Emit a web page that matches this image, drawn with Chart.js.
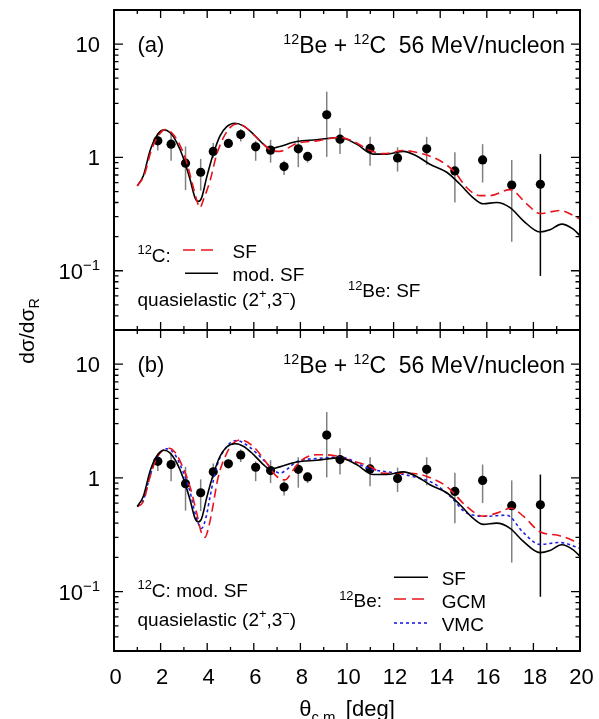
<!DOCTYPE html>
<html>
<head>
<meta charset="utf-8">
<script src="https://cdn.jsdelivr.net/npm/chart.js@4.4.0/dist/chart.umd.min.js"></script>
<style>
body{margin:0;background:#fff;}
#wrap{position:relative;width:599px;height:719px;overflow:hidden;}
canvas{position:absolute;left:0;top:0;}
</style>
</head>
<body>
<div id="wrap">
<canvas id="panelA" width="599" height="719"></canvas>
<canvas id="panelB" width="599" height="719"></canvas>
</div>
<script>
// measured data (same in both panels)
const theta = [1.88, 2.45, 3.07, 3.72, 4.26, 4.91, 5.44, 6.08, 6.72, 7.30, 7.91, 8.31, 9.13, 9.70, 10.99, 12.17, 13.42, 14.63, 15.82, 17.07, 18.30];
const ratio = [1.40, 1.31, 0.89, 0.74, 1.13, 1.33, 1.59, 1.24, 1.16, 0.83, 1.19, 1.02, 2.38, 1.45, 1.20, 0.99, 1.19, 0.76, 0.95, 0.57, 0.58];
const errHi = [1.64, 1.66, 1.25, 0.97, 1.34, 1.40, 1.78, 1.40, 1.43, 0.935, 1.52, 1.11, 3.8, 1.82, 1.52, 1.23, 1.52, 1.11, 1.31, 0.95, 1.07];
const errLo = [1.15, 0.935, 0.515, 0.51, 0.99, 1.27, 1.38, 0.935, 0.90, 0.70, 0.82, 0.90, 1.01, 1.07, 0.845, 0.75, 0.86, 0.40, 0.60, 0.18, 0.09];

// black: 12C mod. SF (panel a) / 12Be SF (panel b)
const modSfX = [1.0, 1.26, 1.55, 1.83, 2.14, 2.40, 2.69, 2.97, 3.26, 3.48, 3.62, 3.76, 3.98, 4.26, 4.55, 4.84, 5.19, 5.55, 5.98, 6.41, 6.70, 7.12, 7.84, 8.70, 9.70, 10.41, 11.13, 11.7, 12.42, 12.99, 13.56, 14.28, 14.85, 15.42, 15.85, 16.42, 17.0, 17.57, 18.28, 18.71, 19.21, 19.71, 20.0];
const modSfY = [0.56, 0.69, 1.15, 1.55, 1.75, 1.66, 1.36, 1.0, 0.645, 0.44, 0.41, 0.44, 0.67, 1.07, 1.55, 1.87, 2.0, 1.90, 1.61, 1.31, 1.19, 1.25, 1.38, 1.43, 1.50, 1.31, 1.07, 1.07, 1.13, 1.03, 0.87, 0.74, 0.58, 0.44, 0.39, 0.40, 0.36, 0.276, 0.22, 0.23, 0.258, 0.233, 0.204];

// red dashed, panel a: 12C SF
const sfX = [1.0, 1.3, 1.6, 1.9, 2.2, 2.5, 2.8, 3.1, 3.35, 3.55, 3.69, 3.83, 4.12, 4.4, 4.7, 5.0, 5.25, 5.6, 6.0, 6.4, 6.7, 7.12, 7.5, 7.84, 8.7, 9.7, 10.3, 10.99, 11.6, 12.42, 13.28, 14.0, 14.63, 15.14, 15.71, 16.14, 17.0, 17.71, 18.28, 19.14, 20.0];
const sfY = [0.56, 0.70, 1.15, 1.55, 1.76, 1.63, 1.32, 0.93, 0.60, 0.42, 0.36, 0.42, 0.62, 1.05, 1.5, 1.85, 1.97, 1.88, 1.58, 1.32, 1.17, 1.13, 1.22, 1.33, 1.40, 1.50, 1.38, 1.15, 1.08, 1.15, 1.07, 0.935, 0.74, 0.54, 0.46, 0.46, 0.52, 0.39, 0.32, 0.34, 0.286];

// panel b: 12Be GCM (red dashed)
const gcmX = [1.0, 1.26, 1.55, 1.83, 2.33, 2.6, 2.95, 3.26, 3.55, 3.75, 3.91, 4.05, 4.19, 4.48, 4.84, 5.1, 5.41, 5.98, 6.55, 6.98, 7.34, 7.70, 7.98, 8.70, 9.56, 9.7, 10.99, 11.56, 12.71, 13.42, 14.28, 15.14, 15.85, 16.42, 17.05, 17.57, 18.28, 19.14, 20.0];
const gcmY = [0.56, 0.62, 1.03, 1.49, 1.83, 1.7, 1.25, 0.84, 0.49, 0.33, 0.30, 0.36, 0.49, 1.03, 1.65, 2.0, 2.16, 1.89, 1.35, 1.03, 0.96, 1.18, 1.39, 1.60, 1.56, 1.52, 1.26, 1.1, 1.1, 1.03, 0.84, 0.56, 0.46, 0.49, 0.54, 0.46, 0.336, 0.31, 0.265];

// panel b: 12Be VMC (blue dotted)
const vmcX = [1.0, 1.26, 1.55, 1.83, 2.26, 2.6, 2.95, 3.26, 3.5, 3.76, 3.95, 4.12, 4.41, 4.84, 5.26, 5.84, 6.41, 6.8, 7.12, 7.45, 7.84, 8.7, 9.7, 10.99, 12.13, 12.8, 13.7, 14.42, 15.14, 16.0, 16.85, 17.57, 18.28, 19.14, 20.0];
const vmcY = [0.56, 0.64, 1.05, 1.5, 1.8, 1.62, 1.15, 0.76, 0.47, 0.36, 0.45, 0.68, 1.26, 1.89, 2.13, 1.85, 1.44, 1.2, 1.1, 1.2, 1.39, 1.48, 1.52, 1.2, 1.1, 1.03, 0.9, 0.69, 0.49, 0.46, 0.47, 0.33, 0.26, 0.27, 0.24];

const xTicks = [0, 2, 4, 6, 8, 10, 12, 14, 16, 18, 20];
const yTicks = [10, 1, 0.1];

const FONT = '"Liberation Sans", Arial, Helvetica, sans-serif';
const RED = '#e8141c';
const BLUE = '#1f1fe6';

function pts(xs, ys) {
  return xs.map((x, i) => ({x: x, y: ys[i]}));
}

function drawRich(ctx, parts, x, y, size, align, supScale) {
  const sc = supScale || 0.68;
  let w = 0;
  parts.forEach(p => {
    ctx.font = (p[1] ? size * sc : size) + 'px ' + FONT;
    w += ctx.measureText(p[0]).width;
  });
  let cx = align === 'right' ? x - w : (align === 'center' ? x - w / 2 : x);
  ctx.textAlign = 'left';
  ctx.textBaseline = 'alphabetic';
  parts.forEach(p => {
    const s = p[1] ? size * sc : size;
    ctx.font = s + 'px ' + FONT;
    const dy = p[1] === 1 ? -size * 0.4 : (p[1] === 2 ? size * 0.25 : 0);
    ctx.fillText(p[0], cx, y + dy);
    cx += ctx.measureText(p[0]).width;
  });
}

function sample(ctx, x1, x2, y, color, dash) {
  ctx.save();
  ctx.strokeStyle = color;
  ctx.lineWidth = 1.6;
  ctx.setLineDash(dash);
  ctx.beginPath();
  ctx.moveTo(x1, y);
  ctx.lineTo(x2, y);
  ctx.stroke();
  ctx.restore();
}

const errorBars = {
  id: 'errorBars',
  beforeDatasetsDraw(chart) {
    const ctx = chart.ctx, xs = chart.scales.x, ys = chart.scales.y;
    ctx.save();
    ctx.lineWidth = 1.5;
    for (let i = 0; i < theta.length; i++) {
      const px = xs.getPixelForValue(theta[i]);
      ctx.strokeStyle = i === theta.length - 1 ? '#000' : '#808080';
      ctx.beginPath();
      ctx.moveTo(px, ys.getPixelForValue(errHi[i]));
      ctx.lineTo(px, ys.getPixelForValue(errLo[i]));
      ctx.stroke();
    }
    ctx.restore();
  }
};

const frame = {
  id: 'frame',
  afterDraw(chart, args, opts) {
    const ctx = chart.ctx, xs = chart.scales.x, ys = chart.scales.y, a = chart.chartArea;
    ctx.save();
    ctx.strokeStyle = '#000';
    ctx.fillStyle = '#000';
    ctx.lineWidth = 1.3;
    ctx.beginPath();
    for (let t = 1; t < 20; t++) {
      const px = xs.getPixelForValue(t);
      const len = t % 2 === 0 ? 8 : 4;
      ctx.moveTo(px, a.bottom); ctx.lineTo(px, a.bottom - len);
      ctx.moveTo(px, a.top); ctx.lineTo(px, a.top + len);
    }
    for (let e = -2; e <= 1; e++) {
      for (let m = 1; m <= 9; m++) {
        const v = m * Math.pow(10, e);
        if (v < 0.03 || v > 20) continue;
        const py = ys.getPixelForValue(v);
        const len = m === 1 ? 9 : 4.5;
        ctx.moveTo(a.left, py); ctx.lineTo(a.left + len, py);
        ctx.moveTo(a.right, py); ctx.lineTo(a.right - len, py);
      }
    }
    ctx.stroke();
    ctx.lineWidth = 2;
    ctx.strokeRect(a.left, a.top, a.right - a.left, a.bottom - a.top);

    // y tick labels
    yTicks.forEach(v => {
      const py = ys.getPixelForValue(v) + 8;
      if (v === 0.1) drawRich(ctx, [['10', 0], ['\u22121', 1]], 100, py, 22, 'right');
      else drawRich(ctx, [[String(v), 0]], 100, py, 22, 'right');
    });

    // panel label and title
    drawRich(ctx, [[opts.tag, 0]], 137.5, a.top + 42, 22, 'left');
    drawRich(ctx, [['12', 1], ['Be + ', 0], ['12', 1], ['C  56 MeV/nucleon', 0]], 565, a.top + 43, 23, 'right', 0.62);

    if (opts.panel === 'a') {
      drawRich(ctx, [['12', 1], ['C:', 0]], 137.5, 261.5, 19, 'left');
      sample(ctx, 183, 216, 250, RED, [12, 6]);
      drawRich(ctx, [['SF', 0]], 232.5, 258.3, 19, 'left');
      sample(ctx, 185, 218, 273.3, '#000', []);
      drawRich(ctx, [['mod. SF', 0]], 232.5, 280.7, 19, 'left');
      drawRich(ctx, [['quasielastic (2', 0], ['+', 1], [',3', 0], ['\u2212', 1], [')', 0]], 137.5, 305.5, 19, 'left');
      drawRich(ctx, [['12', 1], ['Be: SF', 0]], 348, 297.3, 19, 'left');
    } else {
      drawRich(ctx, [['12', 1], ['C: mod. SF', 0]], 137.5, 596.7, 19, 'left');
      drawRich(ctx, [['quasielastic (2', 0], ['+', 1], [',3', 0], ['\u2212', 1], [')', 0]], 137.5, 626, 19, 'left');
      drawRich(ctx, [['12', 1], ['Be:', 0]], 382, 607.3, 19, 'right');
      sample(ctx, 394, 428, 577.3, '#000', []);
      sample(ctx, 394, 428, 599, RED, [12, 6]);
      sample(ctx, 394, 428, 623, BLUE, [3, 3]);
      drawRich(ctx, [['SF', 0]], 441.7, 585, 19, 'left');
      drawRich(ctx, [['GCM', 0]], 441.7, 608.3, 19, 'left');
      drawRich(ctx, [['VMC', 0]], 441.7, 630.7, 19, 'left');

      // x tick labels
      xTicks.forEach(t => {
        drawRich(ctx, [[String(t), 0]], xs.getPixelForValue(t) + 1.5, 684, 22, 'center');
      });
      // axis titles
      drawRich(ctx, [['\u03b8', 0], ['c.m.', 2], [' [deg]', 0]], 347, 716, 22, 'center');
      ctx.save();
      ctx.translate(34, 331);
      ctx.rotate(-Math.PI / 2);
      drawRich(ctx, [['d\u03c3/d\u03c3', 0], ['R', 2]], 0, 0, 21, 'center');
      ctx.restore();
    }
    ctx.restore();
  }
};

function lineSet(data, color, dash) {
  return {
    type: 'line', data: data, borderColor: color, borderWidth: 1.6,
    borderDash: dash, pointRadius: 0, fill: false,
    cubicInterpolationMode: 'monotone'
  };
}

function makePanel(id, top, bottom, tag, panel, curves) {
  const pointSet = {
    type: 'scatter', data: pts(theta, ratio), showLine: false,
    pointRadius: 4.6, pointBackgroundColor: '#000', pointBorderWidth: 0
  };
  return new Chart(document.getElementById(id), {
    type: 'line',
    data: {datasets: curves.concat([pointSet])},
    options: {
      responsive: false,
      animation: false,
      devicePixelRatio: 1,
      layout: {padding: {left: 114, right: 19, top: top, bottom: 719 - bottom}},
      plugins: {
        legend: {display: false},
        tooltip: {enabled: false},
        frame: {tag: tag, panel: panel}
      },
      scales: {
        x: {type: 'linear', min: 0, max: 20, display: false},
        y: {type: 'logarithmic', min: 0.03, max: 20, display: false}
      }
    },
    plugins: [errorBars, frame]
  });
}

makePanel('panelA', 10, 330, '(a)', 'a', [
  lineSet(pts(sfX, sfY), RED, [9, 5]),
  lineSet(pts(modSfX, modSfY), '#000', [])
]);

makePanel('panelB', 330, 651, '(b)', 'b', [
  lineSet(pts(modSfX, modSfY), '#000', []),
  lineSet(pts(gcmX, gcmY), RED, [9, 5]),
  lineSet(pts(vmcX, vmcY), BLUE, [3, 3])
]);
</script>
</body>
</html>
